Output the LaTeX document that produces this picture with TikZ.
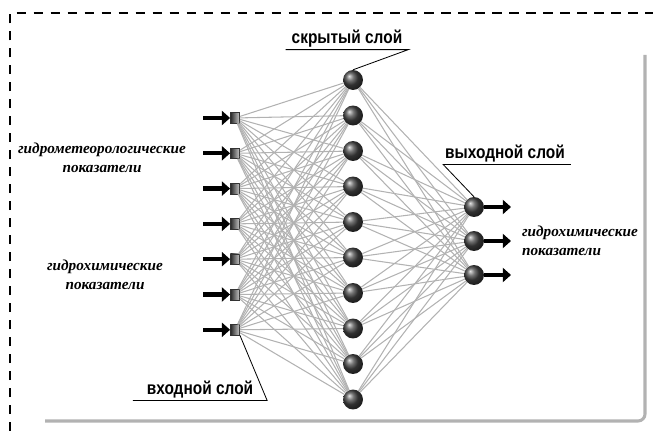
\documentclass[tikz,border=0pt]{standalone}
\usepackage{fontspec}
\setmainfont{Liberation Serif}
\setsansfont{Liberation Sans}
\newfontfamily\layerfont[FakeStretch=0.85]{Liberation Sans}
\usepackage{tikz}
\usetikzlibrary{arrows.meta,positioning,calc,shadings}

\begin{document}
\begin{tikzpicture}[x=0.03cm, y=-0.03cm,
    neuron/.style={circle, minimum size=17pt, inner sep=0pt, shading=ball, ball color=gray!55!black},
    inbox/.style={rectangle, minimum width=8pt, minimum height=9pt, inner sep=0pt, draw=black!80, left color=black!85, right color=gray!40},
    link/.style={draw=gray!60, line width=0.9pt},
    flow/.style={-{Triangle[length=7pt,width=12pt]}, line width=3.6pt, black},
    layerlabel/.style={font=\layerfont\bfseries\fontsize{15.5}{17}\selectfont, inner sep=1.5pt},
    groupname/.style={font=\bfseries\itshape\fontsize{13}{16}\selectfont, align=center},
    leader/.style={draw=black, line width=0.7pt}]
        \useasboundingbox (0,0) rectangle (653,431);

        % dashed outer border
        \draw[line width=1.6pt, dash pattern=on 8pt off 6.5pt] (10,431) -- (10,13) -- (653,13);

        % frame shadow
        \draw[gray!60, line width=2.6pt, rounded corners=6pt] (645,55) -- (645,421) -- (45,421);

        % input layer
        \foreach \i in {1,...,7} {
            \node[inbox] (in\i) at (235,{118+35.3*(\i-1)}) {};
            \coordinate (src\i) at (203,{118+35.3*(\i-1)});
        }

        % hidden layer
        \foreach \j in {1,...,10}
            \node[neuron] (h\j) at (353,{80+35.5*(\j-1)}) {};

        % output layer
        \foreach \k in {1,2,3} {
            \node[neuron] (out\k) at (474,{207+34*(\k-1)}) {};
            \coordinate (dst\k) at (511,{207+34*(\k-1)});
        }

        % connections
        \foreach \i in {1,...,7}
            \foreach \j in {1,...,10}
                \draw[link] (in\i) -- (h\j);
        \foreach \j in {1,...,10}
            \foreach \k in {1,2,3}
                \draw[link] (h\j) -- (out\k);

        % arrows in and out
        \foreach \i in {1,...,7}
            \draw[flow] (src\i) -- (in\i);
        \foreach \k in {1,2,3}
            \draw[flow] (out\k) -- (dst\k);

        % layer labels
        \node[layerlabel] (lhid) at (347,39) {скрытый слой};
        \draw[leader] ($(lhid.south west)+(-4,0)$) -- ($(lhid.south east)+(4,0)$) -- (h1.north);

        \node[layerlabel] (lout) at (505,154) {выходной слой};
        \draw[leader] ($(lout.south east)+(4,0)$) -- (lout.south west) -- (out1.north);

        \node[layerlabel] (lin) at (200,390) {входной слой};
        \draw[leader] ($(lin.south west)+(-12,0)$) -- ($(lin.south east)+(12,0)$) -- (in7.south east);

        % group names
        \node[groupname] (gmet) at (102,158) {гидрометеорологические\\показатели};
        \node[groupname] (gchem) at (105,275) {гидрохимические\\показатели};
        \node[groupname, align=left] (gres) at (580,241) {гидрохимические\\показатели};

    \end{tikzpicture}
\end{document}
